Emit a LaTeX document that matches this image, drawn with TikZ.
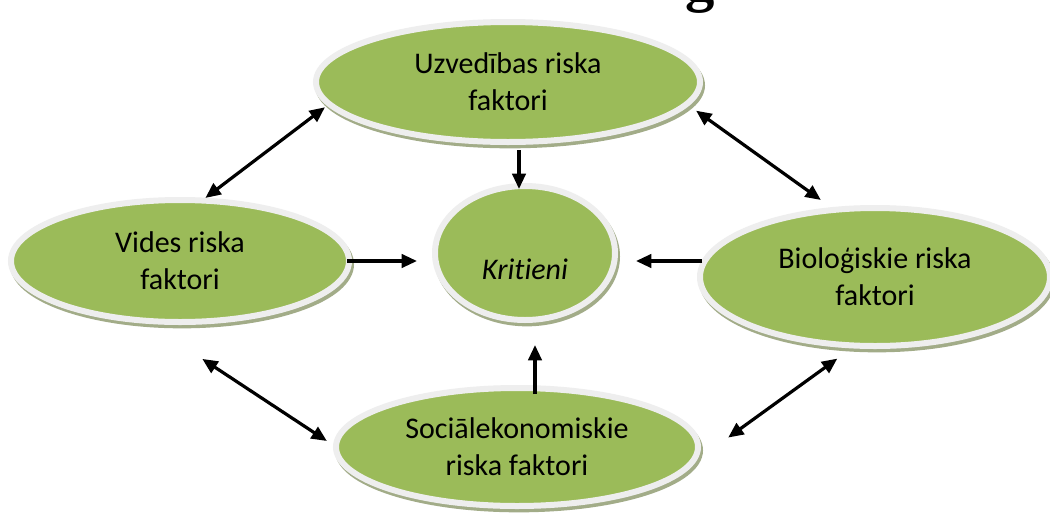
\documentclass[tikz,border=0pt]{standalone}
\usepackage{fontspec}
\setmainfont{Carlito}[Ligatures=NoCommon]
\newfontfamily\headfont{Liberation Serif}
\usetikzlibrary{shapes.geometric,arrows.meta}
\definecolor{ellgreen}{HTML}{9BBB59}
\definecolor{rimgray}{HTML}{EEEEEE}
\definecolor{shadowgreen}{HTML}{A2AC88}
\begin{document}
\begin{tikzpicture}[x=0.75pt,y=-0.75pt,
  ell/.style={ellipse, inner sep=0pt, outer sep=0pt, fill=ellgreen, draw=rimgray, line width=4.5pt,
    preaction={draw=shadowgreen, fill=shadowgreen, transform canvas={shift={(1.5pt,-2.5pt)}}},
    font=\fontsize{22.5}{27.5}\selectfont, align=center, text=black},
  lbl/.style={font=\fontsize{22.5}{27.5}\selectfont\itshape, text=black},
  arr/.style={line width=2.4pt, -{Triangle[length=11.5pt,width=10pt]}},
  darr/.style={line width=2.4pt, {Triangle[length=11.5pt,width=10pt]}-{Triangle[length=11.5pt,width=10pt]}}]
\useasboundingbox (0,0) rectangle (1050,515);
\fill[white] (0,0) rectangle (1050,515);

\begin{scope}
\clip (0,0) rectangle (1050,14);
\node[font=\headfont\bfseries\fontsize{44}{44}\selectfont, anchor=base, inner sep=0pt, text=black] (hdr) at (700,0) {g};
\end{scope}

\node[ell, minimum width=288pt, minimum height=90pt] (T) at (508,82) {Uzvedības riska\\faktori};
\node[ell, minimum width=253.5pt, minimum height=91.5pt] (L) at (180,261) {Vides riska\\faktori};
\node[ell, minimum width=135pt, minimum height=100.5pt,
      label={[lbl, yshift=-12pt]center:Kritieni}] (C) at (525,253) {};
\node[ell, minimum width=262.5pt, minimum height=103.5pt] (R) at (875,277) {Bioloģiskie riska\\faktori};
\node[ell, minimum width=271.5pt, minimum height=88.5pt] (B) at (517,447) {Sociālekonomiskie\\riska faktori};

% single arrows into Kritieni
\draw[arr, shorten <=6pt, shorten >=-2.25pt] ([xshift=8.25pt]T.south) -- ([xshift=-4.5pt]C.north);
\draw[arr, shorten <=-4.5pt, shorten >=18.75pt] ([xshift=13.5pt]B.north) -- ([xshift=7.5pt]C.south);
\draw[arr, shorten <=-1.5pt, shorten >=13.5pt] (L.east) -- (L.east -| C.west);
\draw[arr, shorten <=-1.5pt, shorten >=15.75pt] ([yshift=12pt]R.west) -- ([yshift=-6pt]C.east);

% double arrows between the factors
\draw[darr, shorten <=4.1pt, shorten >=3.2pt] (T.187.7) -- (L.70.4);
\draw[darr, shorten <=8.7pt, shorten >=12.75pt] (T.353.3) -- (R.121.7);
\draw[darr, shorten <=52.2pt, shorten >=8.2pt] (L.239.5) -- (B.west);
\draw[darr, shorten <=16.7pt, shorten >=38.7pt] (R.254.4) -- (B.353.2);
\end{tikzpicture}
\end{document}
